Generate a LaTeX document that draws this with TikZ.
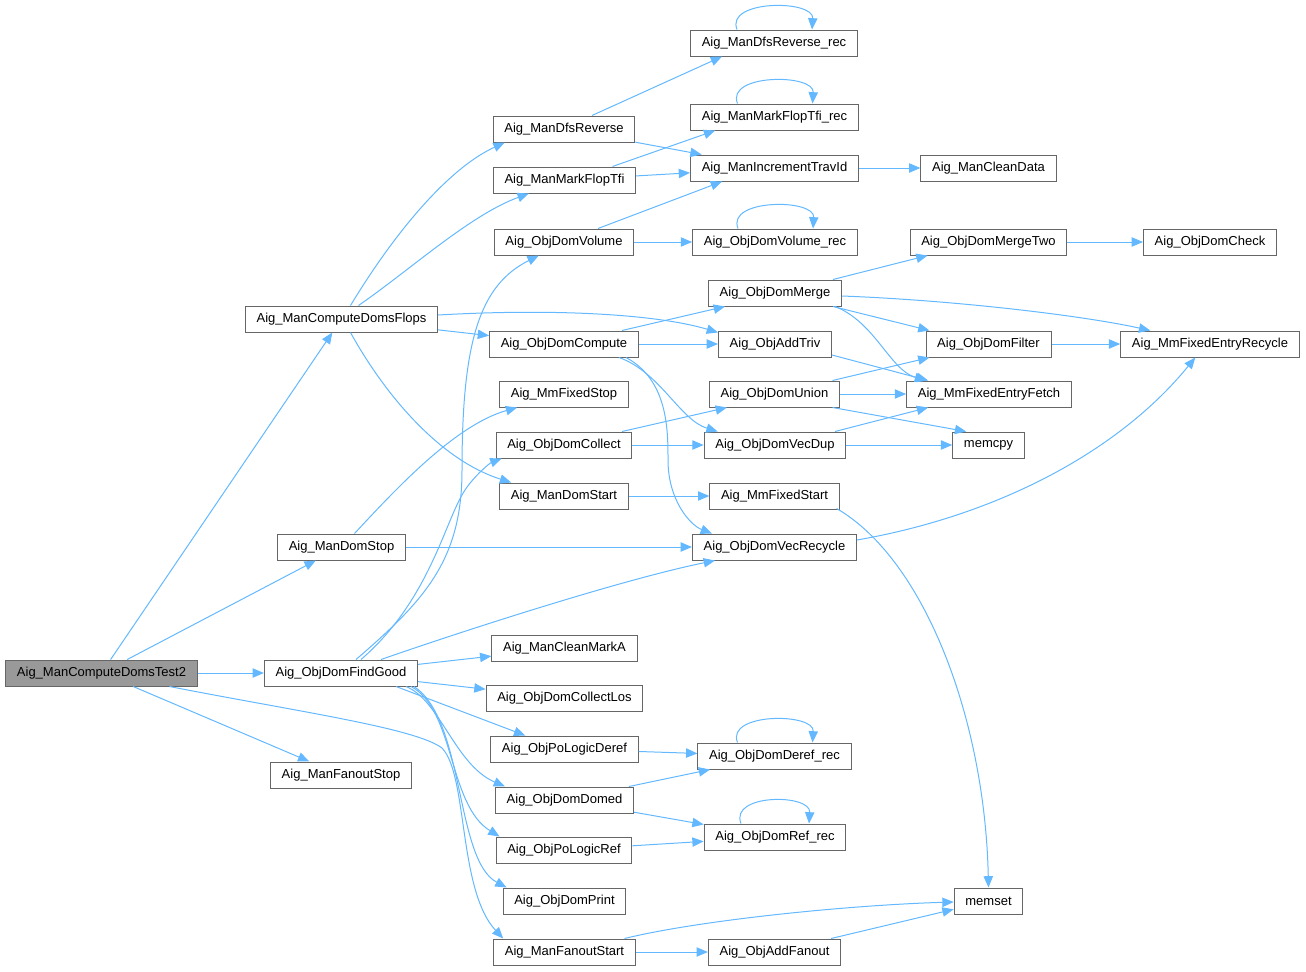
\documentclass[tikz,border=0pt]{standalone}
\usepackage{fontspec}
\setmainfont{Liberation Sans}
\usetikzlibrary{arrows.meta}
\definecolor{edgec}{RGB}{99,184,255}
\definecolor{boxc}{RGB}{102,102,102}
\definecolor{rootc}{RGB}{153,153,153}
\begin{document}
\begin{tikzpicture}[x=0.75pt,y=-0.75pt,
  box/.style={draw=boxc,fill=white,line width=0.75pt,minimum height=19.5pt,inner xsep=8.4pt,inner ysep=0pt,font=\fontsize{9.75pt}{11pt}\selectfont},
  root/.style={box,fill=rootc},
  e/.style={draw=edgec,line width=0.75pt,-{Triangle[length=8.5pt,width=7pt]}}]
\useasboundingbox (0,0) rectangle (1306,971);
% nodes
\node[root] (t2) at (101.5,673) {Aig\_ManComputeDomsTest2};
\node[box] (flops) at (341.5,319) {Aig\_ManComputeDomsFlops};
\node[box] (domstop) at (341.5,547) {Aig\_ManDomStop};
\node[box] (findgood) at (341,673) {Aig\_ObjDomFindGood};
\node[box] (fanoutstop) at (341,775) {Aig\_ManFanoutStop};
\node[box] (dfsrev) at (564,129) {Aig\_ManDfsReverse};
\node[box] (markflop) at (564.5,180) {Aig\_ManMarkFlopTfi};
\node[box] (volume) at (564,242) {Aig\_ObjDomVolume};
\node[box] (compute) at (564,344) {Aig\_ObjDomCompute};
\node[box] (mmstop) at (564,394) {Aig\_MmFixedStop};
\node[box] (collect) at (564,445) {Aig\_ObjDomCollect};
\node[box] (domstart) at (564,496) {Aig\_ManDomStart};
\node[box] (cleanmark) at (564.5,648) {Aig\_ManCleanMarkA};
\node[box] (collectlos) at (564.5,698) {Aig\_ObjDomCollectLos};
\node[box] (pologderef) at (564.5,749) {Aig\_ObjPoLogicDeref};
\node[box] (domed) at (564.5,800) {Aig\_ObjDomDomed};
\node[box] (pologref) at (564,850) {Aig\_ObjPoLogicRef};
\node[box] (print) at (564.5,901) {Aig\_ObjDomPrint};
\node[box] (fanoutstart) at (564.5,952) {Aig\_ManFanoutStart};
\node[box] (dfsrec) at (774,43) {Aig\_ManDfsReverse\_rec};
\node[box] (markrec) at (774.5,117) {Aig\_ManMarkFlopTfi\_rec};
\node[box] (travid) at (774.5,168) {Aig\_ManIncrementTravId};
\node[box] (volrec) at (775,242) {Aig\_ObjDomVolume\_rec};
\node[box] (merge) at (775,293) {Aig\_ObjDomMerge};
\node[box] (addtriv) at (775,344) {Aig\_ObjAddTriv};
\node[box] (union) at (774.5,394) {Aig\_ObjDomUnion};
\node[box] (vecdup) at (775,445) {Aig\_ObjDomVecDup};
\node[box] (mmstart) at (774.5,496) {Aig\_MmFixedStart};
\node[box] (vecrec) at (774.5,547) {Aig\_ObjDomVecRecycle};
\node[box] (derefrec) at (774.5,756) {Aig\_ObjDomDeref\_rec};
\node[box] (refrec) at (775,837) {Aig\_ObjDomRef\_rec};
\node[box] (addfanout) at (774.5,952) {Aig\_ObjAddFanout};
\node[box] (cleandata) at (988.5,168) {Aig\_ManCleanData};
\node[box] (mergetwo) at (988.5,242) {Aig\_ObjDomMergeTwo};
\node[box] (filter) at (988.5,344) {Aig\_ObjDomFilter};
\node[box] (fetch) at (989,394) {Aig\_MmFixedEntryFetch};
\node[box] (memcpy) at (988.5,445) {memcpy};
\node[box] (memset) at (988.5,901) {memset};
\node[box] (check) at (1210,242) {Aig\_ObjDomCheck};
\node[box] (recycle) at (1210,344) {Aig\_MmFixedEntryRecycle};
% edges from root
\draw[e] (t2) -- (flops);
\draw[e] (t2) -- (domstop);
\draw[e] (t2) -- (findgood);
\draw[e] (t2) -- (fanoutstop);
\draw[e] ([shift={(68,0)}]t2.south) .. controls (300,712) and (415,728) .. (442,748) .. controls (468,775) and (458,890) .. ([shift={(10,0)}]fanoutstart.north west);
% flops
\draw[e] ([shift={(9,0)}]flops.north) .. controls (390,240) and (445,170) .. ([shift={(12,0)}]dfsrev.south west);
\draw[e] ([shift={(17,0)}]flops.north) .. controls (410,270) and (470,215) .. ([shift={(36,0)}]markflop.south west);
\draw[e] ([shift={(0,-4)}]flops.east) .. controls (560,308) and (660,315) .. ([shift={(0,2)}]addtriv.north west);
\draw[e] (flops) -- (compute);
\draw[e] ([shift={(9,0)}]flops.south) .. controls (385,395) and (440,460) .. ([shift={(12,0)}]domstart.north west);
% domstop
\draw[e] ([shift={(13,0)}]domstop.north) .. controls (395,490) and (455,425) .. ([shift={(18,0)}]mmstop.south west);
\draw[e] (domstop) -- (vecrec);
% findgood
\draw[e] ([shift={(15,0)}]findgood.north) .. controls (425,600) and (462,560) .. (462,470) .. controls (462,340) and (480,285) .. ([shift={(45,0)}]volume.south west);
\draw[e] ([shift={(20,0)}]findgood.north) .. controls (430,600) and (445,520) .. (465,490) .. controls (475,475) and (490,463) .. ([shift={(6,0)}]collect.south west);
\draw[e] ([shift={(40,0)}]findgood.north) .. controls (460,632) and (620,580) .. ([shift={(23,0)}]vecrec.south west);
\draw[e] (findgood) -- (cleanmark);
\draw[e] (findgood) -- (collectlos);
\draw[e] ([shift={(55,0)}]findgood.south) -- ([shift={(35,0)}]pologderef.north west);
\draw[e] ([shift={(65,0)}]findgood.south) .. controls (440,700) and (455,765) .. ([shift={(10,0)}]domed.north west);
\draw[e] ([shift={(70,0)}]findgood.south) .. controls (455,710) and (448,805) .. ([shift={(4,0)}]pologref.north west);
\draw[e] ([shift={(73,0)}]findgood.south) .. controls (465,720) and (455,860) .. ([shift={(4,0)}]print.north west);
% middle column
\draw[e] ([shift={(28,0)}]dfsrev.north) -- ([shift={(32,0)}]dfsrec.south west);
\draw[e] (dfsrev) -- (travid);
\draw[e] ([shift={(48,0)}]markflop.north) -- ([shift={(25,0)}]markrec.south west);
\draw[e] (markflop) -- (travid);
\draw[e] ([shift={(34,0)}]volume.north) -- ([shift={(32,0)}]travid.south west);
\draw[e] (volume) -- (volrec);
\draw[e] (travid) -- (cleandata);
\draw[e] ([shift={(58,0)}]compute.north) -- ([shift={(17,0)}]merge.south west);
\draw[e] (compute) -- (addtriv);
\draw[e] ([shift={(55,0)}]compute.south) .. controls (660,372) and (680,420) .. ([shift={(14,0)}]vecdup.north west);
\draw[e] ([shift={(62,0)}]compute.south) .. controls (668,380) and (668,430) .. (668,460) .. controls (668,500) and (690,525) .. ([shift={(20,0)}]vecrec.north west);
\draw[e] ([shift={(58,0)}]collect.north) -- ([shift={(18,0)}]union.south west);
\draw[e] (collect) -- (vecdup);
\draw[e] (domstart) -- (mmstart);
\draw[e] ([shift={(-3,-1)}]mmstart.south east) .. controls (925,560) and (985,720) .. (memset.north);
\draw[e] ([shift={(0,-7)}]vecrec.east) .. controls (1000,515) and (1120,450) .. ([shift={(75,0)}]recycle.south west);
\draw[e] ([shift={(58,0)}]merge.north) -- ([shift={(18,0)}]mergetwo.south west);
\draw[e] ([shift={(0,3)}]merge.east) .. controls (950,300) and (1080,315) .. ([shift={(30,0)}]recycle.north west);
\draw[e] ([shift={(58,0)}]merge.south) -- ([shift={(4,0)}]filter.north west);
\draw[e] ([shift={(60,0)}]merge.south) .. controls (875,322) and (890,370) .. ([shift={(20,0)}]fetch.north west);
\draw[e] ([shift={(0,11)}]addtriv.east) -- ([shift={(22,0)}]fetch.north west);
\draw[e] ([shift={(58,0)}]union.north) -- ([shift={(4,0)}]filter.south west);
\draw[e] (union) -- (fetch);
\draw[e] ([shift={(58,0)}]union.south) -- ([shift={(14,0)}]memcpy.north west);
\draw[e] ([shift={(60,0)}]vecdup.north) -- ([shift={(22,0)}]fetch.south west);
\draw[e] (vecdup) -- (memcpy);
\draw[e] (mergetwo) -- (check);
\draw[e] (filter) -- (recycle);
\draw[e] (pologderef) -- (derefrec);
\draw[e] (domed) -- (derefrec);
\draw[e] (domed) -- (refrec);
\draw[e] (pologref) -- (refrec);
\draw[e] ([shift={(60,0)}]fanoutstart.north) .. controls (700,920) and (850,905) .. ([shift={(0,1)}]memset.west);
\draw[e] (fanoutstart) -- (addfanout);
\draw[e] (addfanout) -- (memset);
% self loops
\draw[e] ([shift={(-37,0)}]dfsrec.north) .. controls +(-12,-30) and +(2,-30) .. ([shift={(38,0)}]dfsrec.north);
\draw[e] ([shift={(-37,0)}]markrec.north) .. controls +(-12,-30) and +(2,-30) .. ([shift={(38,0)}]markrec.north);
\draw[e] ([shift={(-37,0)}]volrec.north) .. controls +(-12,-30) and +(2,-30) .. ([shift={(38,0)}]volrec.north);
\draw[e] ([shift={(-37,0)}]derefrec.north) .. controls +(-12,-30) and +(2,-30) .. ([shift={(38,0)}]derefrec.north);
\draw[e] ([shift={(-34,0)}]refrec.north) .. controls +(-12,-30) and +(2,-30) .. ([shift={(34,0)}]refrec.north);
\end{tikzpicture}
\end{document}
